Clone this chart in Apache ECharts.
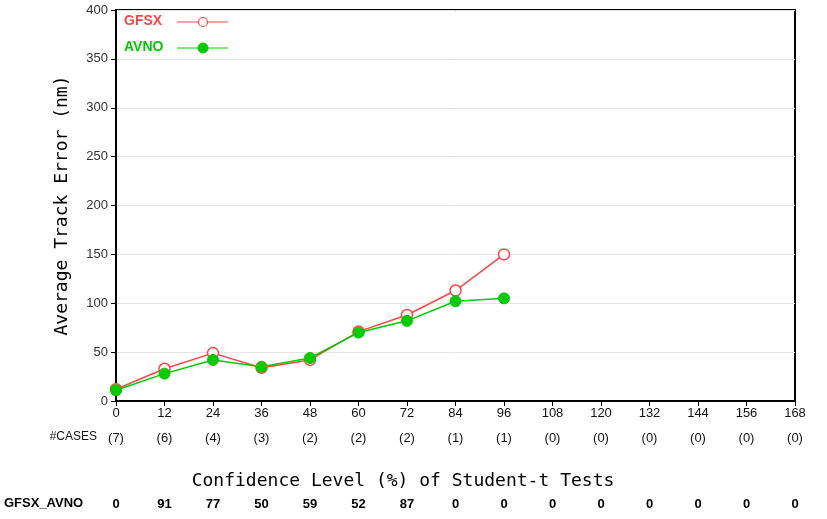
<!DOCTYPE html>
<html><head><meta charset="utf-8">
<script src="https://cdn.jsdelivr.net/npm/echarts@6/dist/echarts.min.js"></script>
<style>html,body{margin:0;padding:0;background:#fff}#c{width:827px;height:519px}</style>
</head><body><div id="c"></div>
<script>
const hours = [0,12,24,36,48,60,72,84,96,108,120,132,144,156,168];
const gfsx = [12,33,49,34,42,71,88,113,150];
const avno = [11,28,42,35,44,70,82,102,105];
const cases = ['(7)','(6)','(4)','(3)','(2)','(2)','(2)','(1)','(1)','(0)','(0)','(0)','(0)','(0)','(0)'];
const conf = ['0','91','77','50','59','52','87','0','0','0','0','0','0','0','0'];
const yTicks = [0,50,100,150,200,250,300,350,400];

const chart = echarts.init(document.getElementById('c'));
const lab = "'Liberation Sans',sans-serif";
const mono = "'DejaVu Sans Mono',monospace";
const red = '#ff4444', green = '#00cc00';
function idx(v){ return hours.indexOf(v); }
const baseX = {type:'value', min:0, max:168, interval:12, position:'bottom', gridIndex:0};
chart.setOption({
  animation:false,
  grid:{left:116, right:32, top:10, bottom:118, show:true, borderColor:'#000', borderWidth:2},
  legend:{show:false},
  xAxis:[
    Object.assign({}, baseX, {
      axisLine:{lineStyle:{color:'#000',width:2}},
      axisTick:{show:true, inside:false, length:5, lineStyle:{color:'#000'}},
      splitLine:{show:false},
      axisLabel:{color:'#111', fontFamily:lab, fontSize:13, margin:6}
    }),
    Object.assign({}, baseX, {
      offset:25, axisLine:{show:false}, axisTick:{show:false}, splitLine:{show:false},
      axisLabel:{color:'#111', fontFamily:lab, fontSize:13, margin:6, formatter:v=>cases[idx(v)]}
    }),
    Object.assign({}, baseX, {
      offset:91, axisLine:{show:false}, axisTick:{show:false}, splitLine:{show:false},
      axisLabel:{color:'#000', fontFamily:lab, fontSize:13, fontWeight:'bold', margin:6, formatter:v=>conf[idx(v)]}
    })
  ],
  yAxis:{type:'value', min:yTicks[0], max:yTicks[yTicks.length-1], interval:50,
    name:'Average Track Error (nm)', nameLocation:'middle', nameGap:45, nameRotate:90,
    nameTextStyle:{color:'#000', fontSize:18, fontFamily:mono},
    axisLine:{show:true, lineStyle:{color:'#000',width:2}},
    axisTick:{show:true, length:5, lineStyle:{color:'#000'}},
    axisLabel:{color:'#333', fontSize:13, fontFamily:lab, margin:8},
    splitLine:{show:true, lineStyle:{color:'#e4e4e4', width:1}}
  },
  series:[
    {name:'GFSX', type:'line', data:gfsx.map((v,i)=>[hours[i],v]), color:red,
     symbol:'circle', symbolSize:11, showAllSymbol:true,
     lineStyle:{color:red,width:1.5}, itemStyle:{color:'#fff', borderColor:red, borderWidth:1.5}, z:2},
    {name:'AVNO', type:'line', data:avno.map((v,i)=>[hours[i],v]), color:green,
     symbol:'circle', symbolSize:11, showAllSymbol:true,
     lineStyle:{color:green,width:1.5}, itemStyle:{color:green, borderColor:green, borderWidth:1}, z:3}
  ],
  graphic:[
    {type:'text', left:124, top:14, style:{text:'GFSX', fill:red, font:'bold 14px "Liberation Sans"'}},
    {type:'line', shape:{x1:177,y1:22,x2:228,y2:22}, style:{stroke:red, lineWidth:1}},
    {type:'circle', shape:{cx:203, cy:22, r:4.5}, style:{fill:'#fff', stroke:red, lineWidth:1.2}},
    {type:'text', left:124, top:40, style:{text:'AVNO', fill:green, font:'bold 14px "Liberation Sans"'}},
    {type:'line', shape:{x1:177,y1:48,x2:228,y2:48}, style:{stroke:green, lineWidth:1}},
    {type:'circle', shape:{cx:203, cy:48, r:5}, style:{fill:green, stroke:green, lineWidth:1}},
    {type:'text', x:97, y:437, style:{text:'#CASES', fill:'#111', font:'12px '+lab, textAlign:'right', textVerticalAlign:'middle'}},
    {type:'text', x:403, y:481, style:{text:'Confidence Level (%) of Student-t Tests', fill:'#000', font:'18px '+mono, textAlign:'center', textVerticalAlign:'middle'}},
    {type:'text', x:4, y:503, style:{text:'GFSX_AVNO', fill:'#000', font:'bold 13px '+lab, textVerticalAlign:'middle'}}
  ]
});
</script></body></html>
